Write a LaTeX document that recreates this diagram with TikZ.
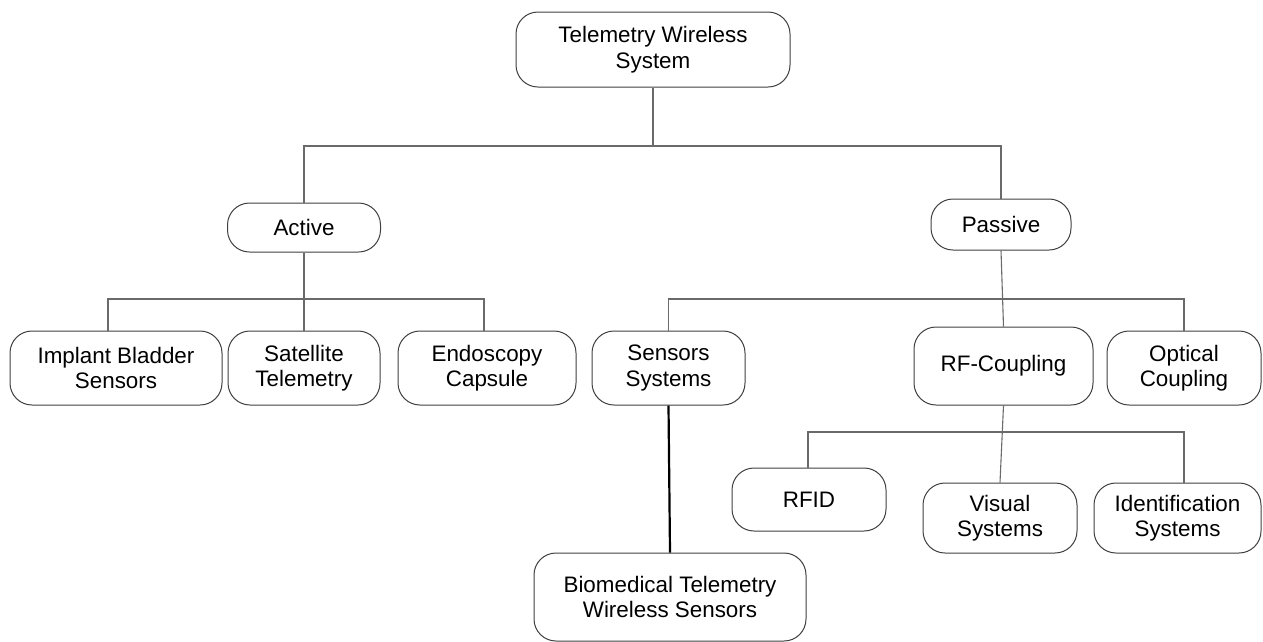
\documentclass[tikz,border=0pt]{standalone}
\usepackage{fontspec}
\setmainfont{Liberation Sans}
\definecolor{boxc}{HTML}{404040}
\definecolor{linec}{HTML}{6A6A6A}
\tikzset{
  box/.style={draw=boxc, line width=1pt, rounded corners=22pt, align=center, inner sep=0pt,
    font=\fontsize{22.4}{25.5}\selectfont, fill=white},
  conn/.style={draw=linec, line width=1.1pt},
  thickconn/.style={draw=black, line width=2.2pt},
}
\newcommand{\bx}[6]{\node[box, minimum width=#4pt, minimum height=#5pt] (#1) at (#2,#3) {#6};}
\begin{document}
\begin{tikzpicture}[x=1pt, y=-1pt]
\useasboundingbox (0,0) rectangle (1263,641);
% boxes
\bx{top}{653}{49.5}{274}{75}{Telemetry Wireless\\System}
\bx{act}{304}{227.5}{153}{49}{Active}
\bx{pas}{1001}{224.5}{140}{51}{Passive}
\bx{imp}{116}{368}{212}{74}{Implant Bladder\\Sensors}
\bx{sat}{304}{368}{152}{74}{Satellite\\Telemetry}
\bx{endo}{487}{368}{178}{74}{Endoscopy\\Capsule}
\bx{sen}{668.5}{368}{153}{74}{Sensors\\Systems}
\bx{rf}{1003.5}{366}{179}{78}{RF-Coupling}
\bx{opt}{1184}{368}{154}{74}{Optical\\Coupling}
\bx{rfid}{809}{499.5}{154}{63}{RFID}
\bx{vis}{1000}{518}{154}{70}{Visual\\Systems}
\bx{ident}{1177.5}{518}{167}{70}{Identification\\Systems}
\bx{bio}{670}{597}{272}{88}{Biomedical Telemetry\\Wireless Sensors}
% junctions
\coordinate (b1) at (653,146);
\coordinate (b2) at (304,299);
\coordinate (b3) at (1001,299);
\coordinate (b4) at (1003,432);
% connectors
\draw[conn] (top.south) -- (b1);
\draw[conn] (act.north) |- (b1) -| (pas.north);
\draw[conn] (act.south) -- (sat.north);
\draw[conn] ([xshift=-8pt]imp.north) |- (b2) -| ([xshift=-3pt]endo.north);
\draw[conn] (pas.south) -- (rf.north);
\draw[conn] (sen.north) |- (b3) -| (opt.north);
\draw[conn] (rf.south) -- (vis.north);
\draw[conn] ([xshift=-1pt]rfid.north) |- (b4) -| ([xshift=6.5pt]ident.north);
\draw[thickconn] (sen.south) -- (bio.north);
\end{tikzpicture}
\end{document}
